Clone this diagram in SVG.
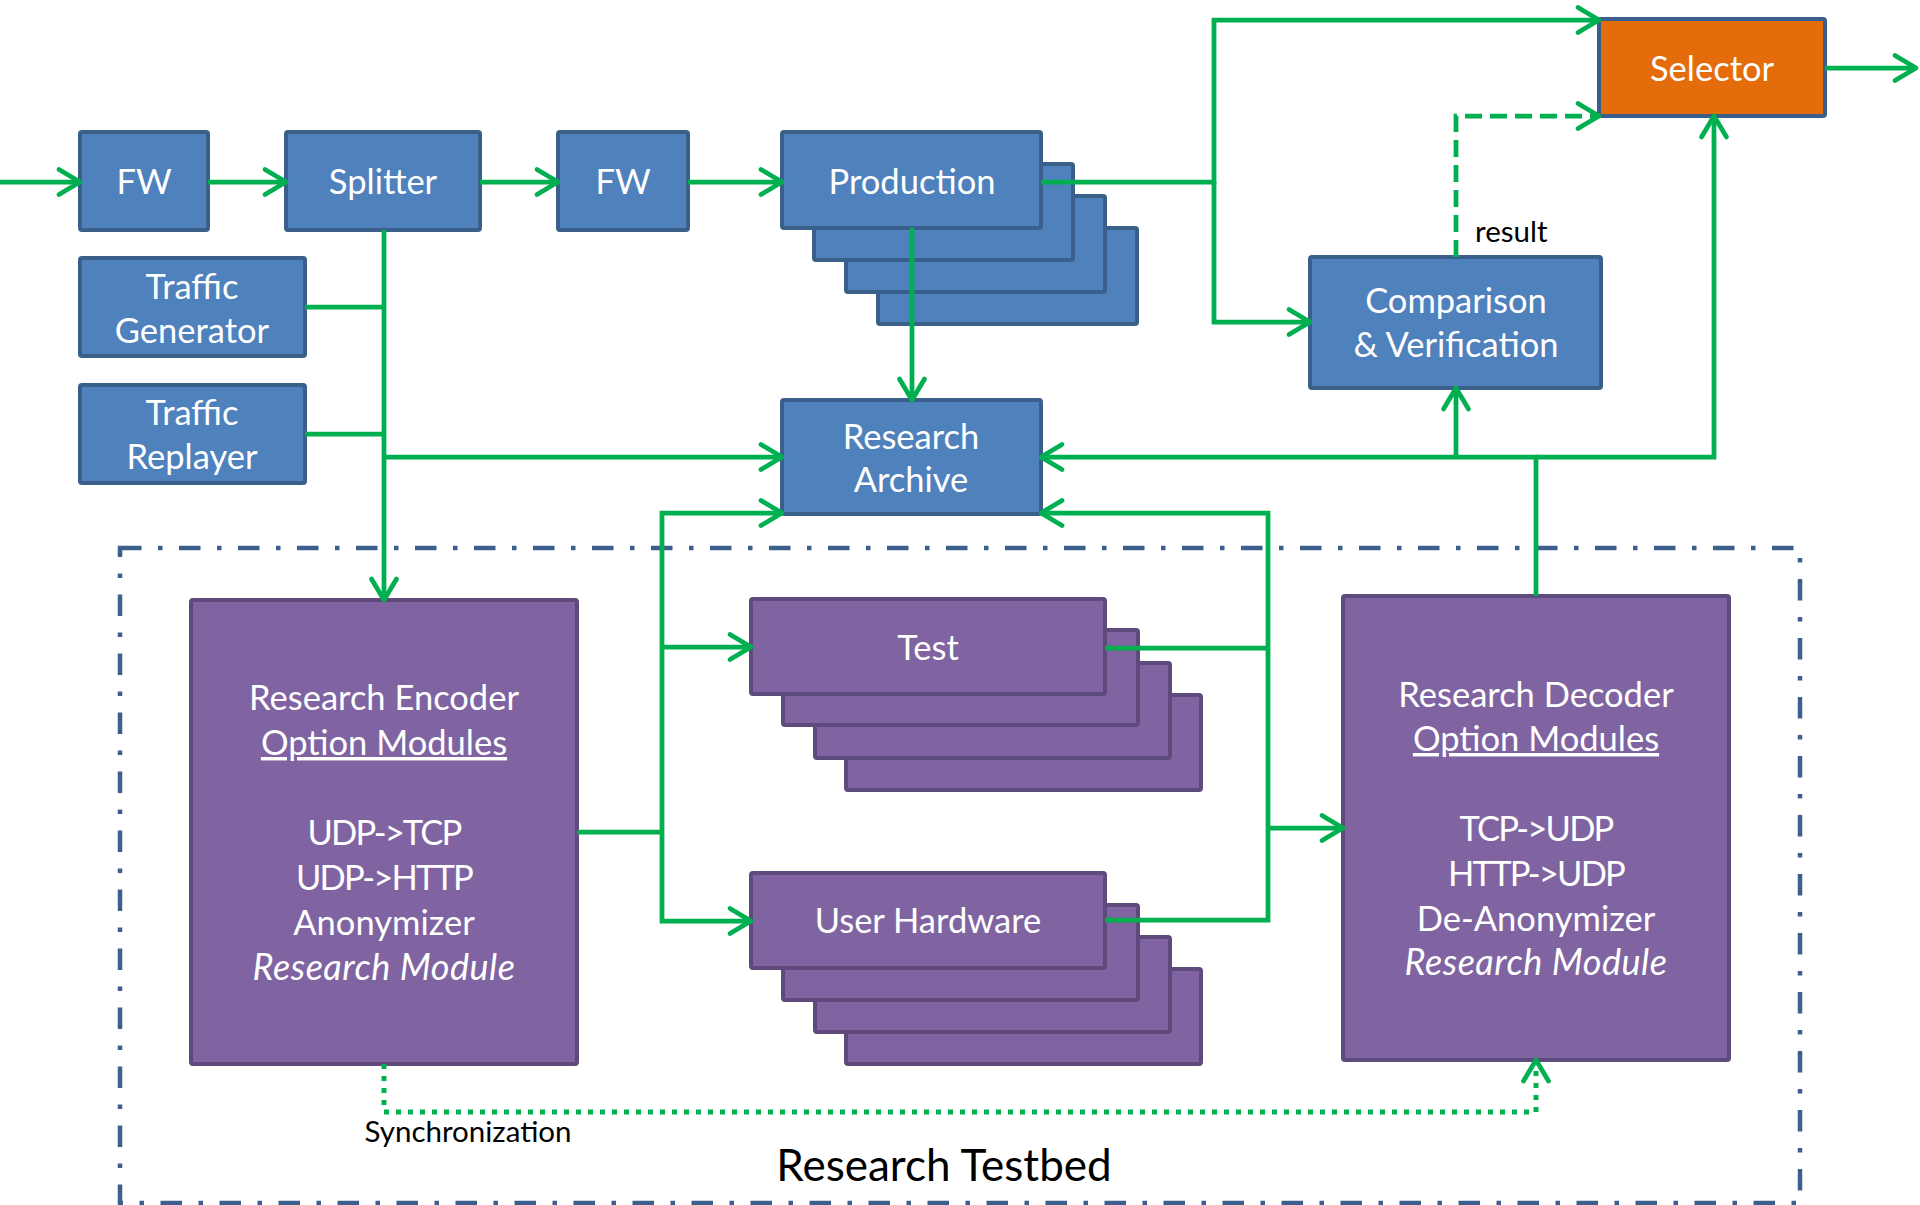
<svg xmlns="http://www.w3.org/2000/svg" width="1920" height="1205" viewBox="0 0 1920 1205">
  <defs>
    <marker id="arrow" markerUnits="userSpaceOnUse" markerWidth="30" markerHeight="30" refX="0" refY="0" orient="auto" overflow="visible">
      <path d="M-21,-12.5 L0,0 L-21,12.5" fill="none" stroke="#00B050" stroke-width="4.75" stroke-linecap="round" stroke-linejoin="round" stroke-dasharray="none"/>
    </marker>
    <style>
      .blue { fill: #4F81BD; stroke: #3A5F8B; stroke-width: 4; }
      .purple { fill: #8064A2; stroke: #5E4A7C; stroke-width: 4; }
      .orange { fill: #E46C0A; stroke: #3A5F8B; stroke-width: 4; }
      .lbl { font-family: "Lato", "Liberation Sans", sans-serif; font-size: 34.5px; fill: #FFFFFF; text-anchor: middle; }
      .it { font-style: italic; font-size: 36px; letter-spacing: 0.5px; }
      .proto { letter-spacing: -1.8px; }
      .note { font-family: "Lato", "Liberation Sans", sans-serif; font-size: 29.5px; fill: #000000; }
      .title { font-family: "Lato", "Liberation Sans", sans-serif; font-size: 44px; fill: #000000; text-anchor: middle; }
      .wire { fill: none; stroke: #00B050; stroke-width: 4.75; stroke-linejoin: miter; }
      .arr { marker-end: url(#arrow); }
      .dash { stroke-dasharray: 17 8; }
      .dot { stroke-dasharray: 5 7; stroke-width: 5; }
    </style>
  </defs>
  <rect width="1920" height="1205" fill="#FFFFFF"/>

  <!-- testbed boundary -->
  <g id="testbed">
    <rect x="120" y="548" width="1680" height="655" fill="none" stroke="#3C5F8D" stroke-width="4.5" stroke-dasharray="21.5 16.5 4.5 16.5"/>
    <text class="title" x="944" y="1181">Research Testbed</text>
  </g>

  <g id="fw1">
    <rect class="blue" x="80" y="132" width="128" height="98" rx="2"/>
    <text class="lbl" x="144" y="194">FW</text>
  </g>
  <g id="splitter">
    <rect class="blue" x="286" y="132" width="194" height="98" rx="2"/>
    <text class="lbl" x="383" y="194">Splitter</text>
  </g>
  <g id="fw2">
    <rect class="blue" x="558" y="132" width="130" height="98" rx="2"/>
    <text class="lbl" x="623" y="194">FW</text>
  </g>
  <g id="traffic-generator">
    <rect class="blue" x="80" y="258" width="225" height="98" rx="2"/>
    <text class="lbl" x="192" y="299">Traffic</text>
    <text class="lbl" x="192" y="343">Generator</text>
  </g>
  <g id="traffic-replayer">
    <rect class="blue" x="80" y="385" width="225" height="98" rx="2"/>
    <text class="lbl" x="192" y="425">Traffic</text>
    <text class="lbl" x="192" y="469">Replayer</text>
  </g>
  <g id="production">
    <rect class="blue" x="878" y="228" width="259" height="96" rx="2"/>
    <rect class="blue" x="846" y="196" width="259" height="96" rx="2"/>
    <rect class="blue" x="814" y="164" width="259" height="96" rx="2"/>
    <rect class="blue" x="782" y="132" width="259" height="96" rx="2"/>
    <text class="lbl" x="912" y="194">Production</text>
  </g>
  <g id="research-archive">
    <rect class="blue" x="782" y="400" width="259" height="114" rx="2"/>
    <text class="lbl" x="911" y="449">Research</text>
    <text class="lbl" x="911" y="492">Archive</text>
  </g>
  <g id="comparison">
    <rect class="blue" x="1310" y="257" width="291" height="131" rx="2"/>
    <text class="lbl" x="1456" y="313">Comparison</text>
    <text class="lbl" x="1456" y="357">&amp; Verification</text>
  </g>
  <g id="selector">
    <rect class="orange" x="1599" y="19" width="226" height="97" rx="2"/>
    <text class="lbl" x="1712" y="81">Selector</text>
  </g>
  <g id="result-label">
    <text class="note" x="1475" y="242">result</text>
  </g>

  <g id="encoder">
    <rect class="purple" x="191" y="600" width="386" height="464" rx="2"/>
    <text class="lbl" x="384" y="710">Research Encoder</text>
    <text class="lbl" x="384" y="755" text-decoration="underline">Option Modules</text>
    <text class="lbl proto" x="384" y="845">UDP-&gt;TCP</text>
    <text class="lbl proto" x="384" y="890">UDP-&gt;HTTP</text>
    <text class="lbl" x="384" y="935">Anonymizer</text>
    <text class="lbl it" x="384" y="980">Research Module</text>
  </g>
  <g id="test">
    <rect class="purple" x="846" y="695" width="355" height="95" rx="2"/>
    <rect class="purple" x="815" y="663" width="355" height="95" rx="2"/>
    <rect class="purple" x="783" y="630" width="355" height="95" rx="2"/>
    <rect class="purple" x="751" y="599" width="354" height="95" rx="2"/>
    <text class="lbl" x="928" y="660">Test</text>
  </g>
  <g id="user-hardware">
    <rect class="purple" x="846" y="969" width="355" height="95" rx="2"/>
    <rect class="purple" x="815" y="937" width="355" height="95" rx="2"/>
    <rect class="purple" x="783" y="905" width="355" height="95" rx="2"/>
    <rect class="purple" x="751" y="873" width="354" height="95" rx="2"/>
    <text class="lbl" x="928" y="933">User Hardware</text>
  </g>
  <g id="decoder">
    <rect class="purple" x="1343" y="596" width="386" height="464" rx="2"/>
    <text class="lbl" x="1536" y="707">Research Decoder</text>
    <text class="lbl" x="1536" y="751" text-decoration="underline">Option Modules</text>
    <text class="lbl proto" x="1536" y="841">TCP-&gt;UDP</text>
    <text class="lbl proto" x="1536" y="886">HTTP-&gt;UDP</text>
    <text class="lbl" x="1536" y="931">De-Anonymizer</text>
    <text class="lbl it" x="1536" y="975">Research Module</text>
  </g>
  <g id="sync-label">
    <text class="note" x="468" y="1142" text-anchor="middle">Synchronization</text>
  </g>

  <!-- connectors -->
  <g id="connectors">
    <path class="wire arr" d="M0,182 H80"/>
    <path class="wire arr" d="M208,182 H286"/>
    <path class="wire arr" d="M480,182 H558"/>
    <path class="wire arr" d="M688,182 H782"/>
    <path class="wire arr" d="M912,228 V400"/>
    <path class="wire arr" d="M1041,182 H1214 V20 H1599"/>
    <path class="wire arr" d="M1214,182 V322 H1310"/>
    <path class="wire arr" d="M1825,68 H1916"/>
    <path class="wire dash arr" d="M1456,257 V116 H1599"/>

    <path class="wire arr" d="M384,230 V600"/>
    <path class="wire" d="M305,307 H384"/>
    <path class="wire" d="M305,434 H384"/>
    <path class="wire arr" d="M384,457 H782"/>

    <path class="wire" d="M577,832 H662"/>
    <path class="wire arr" d="M662,832 V513 H782"/>
    <path class="wire arr" d="M662,647 H751"/>
    <path class="wire arr" d="M662,832 V921 H751"/>

    <path class="wire" d="M1105,648 H1268"/>
    <path class="wire arr" d="M1105,920 H1268 V513 H1041"/>
    <path class="wire arr" d="M1268,828 H1343"/>

    <path class="wire arr" d="M1536,596 V457 H1041"/>
    <path class="wire arr" d="M1536,457 H1714 V116"/>
    <path class="wire arr" d="M1456,457 V388"/>

    <path class="wire dot arr" d="M384,1064 V1112 H1536 V1060"/>
  </g>
</svg>
